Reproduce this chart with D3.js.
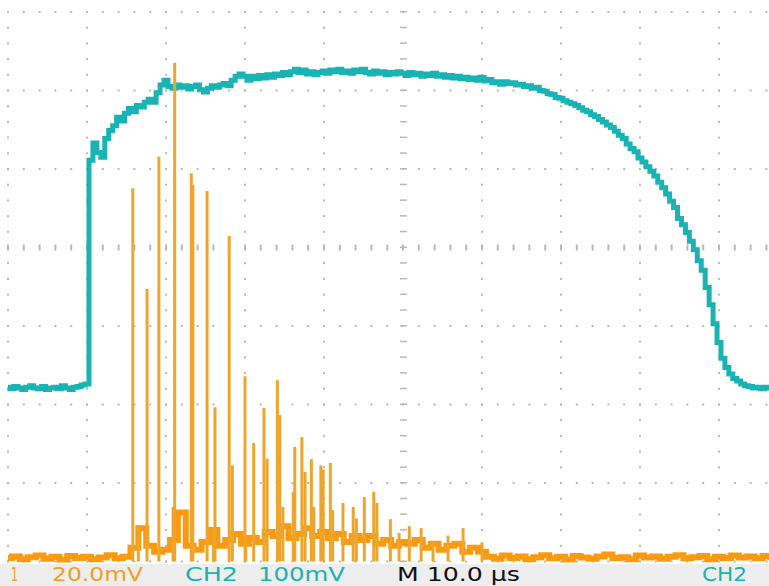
<!DOCTYPE html>
<html>
<head>
<meta charset="utf-8">
<script src="https://cdn.jsdelivr.net/npm/d3@7"></script>
<style>
  body { margin: 0; background: #fff; }
  svg { display: block; }
</style>
</head>
<body>
<div id="scope"></div>
<script>
// scope settings
const timePerDiv = 10 // µs
const ch1PerDiv = 20 // mV
const ch2PerDiv = 100 // mV
const ch1Offset = -4.0 // divisions from centre
const ch2Offset = -1.79

// CH2 (cyan) samples, mV, every 0.5 µs starting at -50 µs
const ch2Start = -50
const ch2Step = 0.5
const ch2Values = [
  1, -1, 2, 0, -2, 1, 3, 0, -1, 2, -2, 0, 1, -1, 3, 0, -2, 1, 2, 4,
  5, 290, 312, 300, 294, 318, 328, 334, 345, 340, 350, 356, 352, 360, 358, 364,
  368, 364, 376, 386, 392, 384, 382, 386, 383, 385, 381, 384, 386, 380,
  377, 382, 385, 383, 386, 388, 385, 392, 397, 400, 397, 392, 397, 394,
  398, 395, 399, 396, 400, 398, 402, 399, 403, 406, 402, 405, 400, 403,
  399, 402, 404, 401, 405, 403, 406, 402, 404, 401, 405, 403, 406, 402,
  400, 404, 401, 403, 399, 402, 400, 403, 401, 398, 402, 399, 401, 397,
  400, 398, 401, 397, 399, 396, 398, 395, 397, 394, 396, 393, 395, 392,
  396, 391, 393, 389, 390, 387, 390, 388, 389, 386, 387, 384, 385, 382,
  383, 379, 378, 375, 374, 370, 369, 366, 364, 362, 360, 357, 354, 352,
  348, 346, 342, 339, 335, 332, 327, 322, 318, 311, 305, 301, 293, 288,
  282, 276, 270, 262, 255, 247, 238, 230, 216, 208, 198, 187, 176, 162,
  150, 128, 106, 82, 58, 38, 26, 18, 12, 9, 5, 3, 2, 0, 1, -1, 1, 0
]

// CH1 (orange) baseline, mV, every 1 µs starting at -50 µs
const ch1Start = -50
const ch1Step = 1
const ch1Base = [
  0.9, 1.3, 0.6, 1.1, 1.5, 0.7, 1.2, 0.5, 1.4, 0.9, 1.2, 0.6, 1.0, 1.6, 0.8, 1.2,
  3.5, 8.5, 4.0, 2.5, 3.0, 5.5, 12.5, 4.0, 3.0, 5.0, 8.0, 4.0, 5.5, 7.0, 4.5,
  6.0, 5.0, 7.5, 6.5, 9.0, 6.0, 7.0, 8.5, 6.5, 7.5, 6.0, 7.0, 5.0, 6.5, 5.5,
  6.5, 4.5, 5.5, 4.0, 5.0, 4.5, 5.5, 3.5, 4.5, 3.0, 4.0, 4.5, 2.5, 3.5, 2.5,
  1.2, 0.7, 1.5, 0.9, 1.3, 0.6, 1.1, 1.6, 0.8, 1.2, 0.5, 1.4, 1.0, 0.7, 1.3,
  1.8, 0.9, 1.1, 0.6, 1.5, 1.0, 1.3, 0.7, 1.2, 1.6, 0.8, 1.1, 1.4, 0.6, 1.2,
  0.9, 1.5, 1.0, 1.3, 0.8, 1.4, 1.1
]

// CH1 spikes: time (µs) and peak (mV)
const spikeTimes = [
  -34.2, -33.5, -32.4, -30.9, -29.1, -28.9, -26.8, -26.6, -24.8, -24.0, -23.8,
  -22.0, -21.6, -20.0, -19.9, -18.9, -17.6, -17.2, -15.9, -15.6, -15.2, -13.9,
  -13.7, -12.8, -12.4, -11.6, -11.3, -10.4, -10.1, -9.2, -8.9, -7.6, -6.3,
  -5.9, -4.9, -3.7, -3.3, -1.6, -0.5, 0.8, 2.3, 3.8, 5.7, 7.6, 10.0
]
const spikeValues = [
  95.1, 9.2, 69.4, 103.1, 13.9, 127.1, 98.9, 95.9, 94.4, 8.7, 39.3,
  82.9, 24.5, 47.2, 5.0, 30.2, 39.1, 26.2, 46.2, 37.3, 13.9, 17.7,
  29.2, 31.7, 22.8, 26.1, 13.9, 24.5, 23.4, 25.1, 13.1, 14.9, 13.9,
  11.0, 16.4, 17.8, 14.9, 10.8, 7.3, 9.0, 8.5, 4.9, 6.6, 8.5, 4.9
]

// status bar labels
const labels = [
  { text: '1', x: 11, w: 7, color: '#f0a02a' },
  { text: '20.0mV', x: 52, w: 91, color: '#f0a02a' },
  { text: 'CH2', x: 185, w: 53, color: '#1ab3b3' },
  { text: '100mV', x: 258, w: 87, color: '#1ab3b3' },
  { text: 'M 10.0 µs', x: 397, w: 123, color: '#111' },
  { text: 'CH2', x: 702, w: 45, color: '#1ab3b3' }
]

const width = 769
const height = 586
const plotBottom = 564

const svg = d3
  .select('#scope')
  .append('svg')
  .attr('width', width)
  .attr('height', height)

const x = d3.scaleLinear().domain([-5 * timePerDiv, 5 * timePerDiv]).range([8, 798])
const yDiv = d3.scaleLinear().domain([-4, 4]).range([561.5, -66.5])
const y1 = v => yDiv(ch1Offset + v / ch1PerDiv)
const y2 = v => yDiv(ch2Offset + v / ch2PerDiv)

svg.append('clipPath').attr('id', 'plot-clip')
  .append('rect').attr('width', width).attr('height', plotBottom)

const plot = svg.append('g').attr('clip-path', 'url(#plot-clip)')

// ---- graticule ----
const grid = plot.append('g').attr('fill', '#b9b9b9')
const majorT = d3.range(-50, 51, timePerDiv)
const majorDiv = d3.range(-4, 5, 1)
const minorT = d3.range(-50, 50.01, timePerDiv / 5)
const minorDiv = d3.range(-4, 4.01, 0.2)

majorDiv.filter(d => d !== 0).forEach(d => {
  grid.selectAll(null)
    .data(minorT)
    .enter()
    .append('rect')
    .attr('x', t => x(t) - 1)
    .attr('y', yDiv(d) - 1)
    .attr('width', 2)
    .attr('height', 2)
})
majorT.filter(t => t !== 0).forEach(t => {
  grid.selectAll(null)
    .data(minorDiv)
    .enter()
    .append('rect')
    .attr('x', x(t) - 1)
    .attr('y', d => yDiv(d) - 1)
    .attr('width', 2)
    .attr('height', 2)
})
// centre lines get short tick marks
grid.selectAll(null)
  .data(minorT)
  .enter()
  .append('rect')
  .attr('x', t => x(t) - 1)
  .attr('y', yDiv(0) - 3)
  .attr('width', 2)
  .attr('height', 6)
grid.selectAll(null)
  .data(minorDiv)
  .enter()
  .append('rect')
  .attr('x', x(0) - 3)
  .attr('y', d => yDiv(d) - 1)
  .attr('width', 7)
  .attr('height', 1.5)

// ---- CH2 trace ----
const ch2Line = d3.line()
  .x((d, i) => x(ch2Start + i * ch2Step))
  .y(d => y2(d))
  .curve(d3.curveStep)

plot.append('path')
  .datum(ch2Values)
  .attr('d', ch2Line)
  .attr('fill', 'none')
  .attr('stroke', '#1ab3b3')
  .attr('stroke-width', 5)
  .attr('stroke-linejoin', 'miter')

// ---- CH1 trace ----
const ch1Line = d3.line()
  .x((d, i) => x(ch1Start + i * ch1Step))
  .y(d => y1(d))
  .curve(d3.curveStep)

plot.append('path')
  .datum(ch1Base)
  .attr('d', ch1Line)
  .attr('fill', 'none')
  .attr('stroke', '#fb9a10')
  .attr('stroke-width', 6)

plot.selectAll('.spike')
  .data(spikeTimes)
  .enter()
  .append('line')
  .attr('class', 'spike')
  .attr('x1', t => x(t))
  .attr('x2', t => x(t))
  .attr('y1', y1(0))
  .attr('y2', (t, i) => y1(spikeValues[i]))
  .attr('stroke', '#eea52c')
  .attr('stroke-width', 3)

// ---- status bar ----
svg.append('rect')
  .attr('x', 0)
  .attr('y', plotBottom)
  .attr('width', width)
  .attr('height', height - plotBottom)
  .attr('fill', '#eeeeee')

svg.selectAll('.label')
  .data(labels)
  .enter()
  .append('text')
  .attr('class', 'label')
  .attr('x', d => d.x)
  .attr('y', 581)
  .attr('textLength', d => d.w)
  .attr('lengthAdjust', 'spacingAndGlyphs')
  .attr('fill', d => d.color)
  .style('font-family', 'DejaVu Sans, sans-serif')
  .style('font-size', '20px')
  .text(d => d.text)
</script>
</body>
</html>
